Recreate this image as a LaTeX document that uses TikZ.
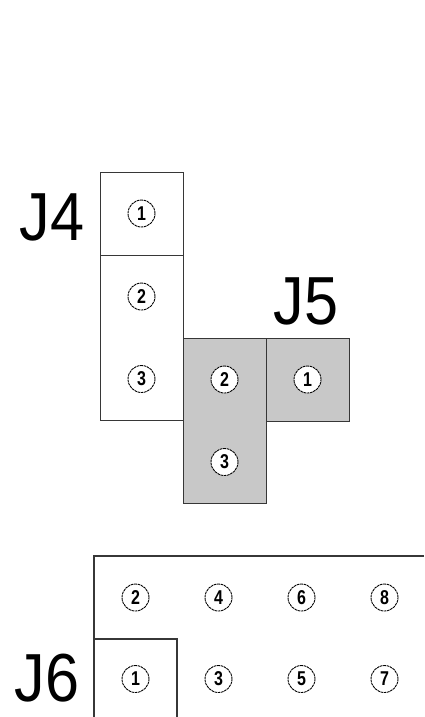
\documentclass[tikz,border=0pt]{standalone}
\usepackage{fontspec}
\setmainfont{Liberation Sans}
\definecolor{pingray}{RGB}{200,200,200}
\definecolor{edgegray}{RGB}{55,55,55}
\newcommand{\pd}[1]{\scalebox{0.8}[1]{#1}}
\begin{document}
\begin{tikzpicture}[x=1pt,y=-1pt,
  box/.style={draw=edgegray, line width=1.3pt, inner sep=0pt, anchor=north west},
  shaded/.style={box, fill=pingray},
  frame/.style={draw=edgegray, line width=1.6pt},
  pin/.style={circle, draw=black, line width=0.9pt, dash pattern=on 2.6pt off 0.7pt,
    fill=white, minimum size=27pt, inner sep=0pt,
    font=\bfseries\fontsize{20}{20}\selectfont},
  lbl/.style={font=\fontsize{68}{68}\selectfont, inner sep=0pt, xscale=0.9}]
\useasboundingbox (0,0) rectangle (424,717);
% J4
\node[box, minimum width=83pt, minimum height=83pt] (j4a) at (100,172) {};
\node[box, minimum width=83pt, minimum height=165pt] (j4b) at (100,255) {};
\node[lbl] (j4) at (52,217) {J4};
\node[pin] (j4p1) at (141.5,213.5) {\pd{1}};
\node[pin] (j4p2) at (141.5,296.5) {\pd{2}};
\node[pin] (j4p3) at (141.5,379) {\pd{3}};
% J5
\node[shaded, minimum width=83pt, minimum height=165pt] (j5a) at (183,338) {};
\node[shaded, minimum width=83pt, minimum height=83pt] (j5b) at (266,338) {};
\node[lbl] (j5) at (306,301) {J5};
\node[pin] (j5p2) at (224.5,379.5) {\pd{2}};
\node[pin] (j5p1) at (307.5,379.5) {\pd{1}};
\node[pin] (j5p3) at (224.5,462) {\pd{3}};
% J6
\coordinate (j6tr) at (424,556);
\coordinate (j6bl) at (94,717);
\coordinate (j6in) at (94,639);
\coordinate (j6ib) at (177,717);
\draw[frame] (j6tr) -| (j6bl);
\draw[box] (j6in) -| (j6ib);
\node[lbl] (j6) at (47,678) {J6};
\node[pin] (j6p2) at (135.5,597.5) {\pd{2}};
\node[pin] (j6p4) at (218.5,597.5) {\pd{4}};
\node[pin] (j6p6) at (301.5,597.5) {\pd{6}};
\node[pin] (j6p8) at (384.5,597.5) {\pd{8}};
\node[pin] (j6p1) at (135.5,679) {\pd{1}};
\node[pin] (j6p3) at (218.5,679) {\pd{3}};
\node[pin] (j6p5) at (301.5,679) {\pd{5}};
\node[pin] (j6p7) at (384.5,679) {\pd{7}};
\end{tikzpicture}
\end{document}
